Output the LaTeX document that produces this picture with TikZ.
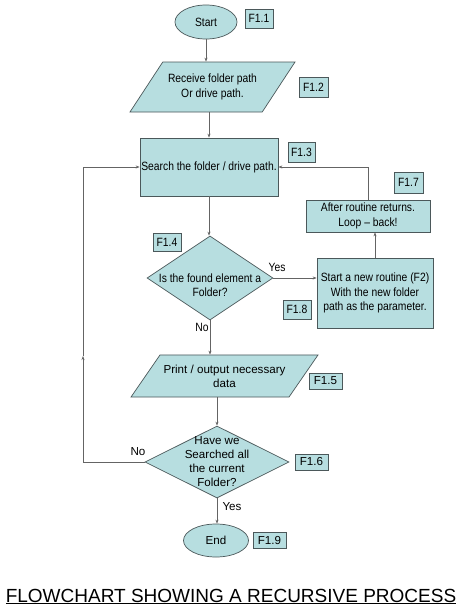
\documentclass[tikz,border=0pt]{standalone}
\usepackage{fontspec}
\setmainfont{Liberation Sans}
\newfontfamily\narrowfont{Liberation Sans}[FakeStretch=0.86, Ligatures=TeX]
\usetikzlibrary{shapes.geometric,arrows.meta}
\definecolor{boxfill}{RGB}{183,222,224}
\definecolor{boxline}{RGB}{75,88,90}
\definecolor{wire}{RGB}{100,100,100}
\tikzset{
  upper/.style={font=\narrowfont\fontsize{12}{14.5}\selectfont},
  lower/.style={font=\fontsize{11.6}{14}\selectfont},
  shapebase/.style={draw=boxline, fill=boxfill, line width=0.7pt, inner sep=0pt, align=center},
  terminal/.style={shapebase, ellipse},
  io/.style={shapebase, trapezium, trapezium stretches body=true},
  process/.style={shapebase, rectangle},
  decision/.style={shapebase, diamond},
  tag/.style={shapebase, rectangle, minimum width=28pt, minimum height=19pt},
  arr/.style={draw=wire, line width=0.7pt, -{Stealth[length=4pt,width=3pt]}},
}
\begin{document}
\begin{tikzpicture}[x=1pt,y=-1pt]
\path[use as bounding box, fill=white] (0,0) rectangle (464,613);
% upper part
\node[terminal, upper, minimum width=62pt, minimum height=34pt] (start) at (206,22) {Start};
\node[tag, upper] (lab11) at (259,18.5) {F1.1};
\node[io, upper, minimum width=165pt, minimum height=50pt, inner ysep=12pt,
      trapezium left angle=56.6, trapezium right angle=123.4] (in1) at (212.5,87)
      {Receive folder path\\Or drive path.};
\node[tag, upper, minimum width=29pt, minimum height=20pt] (lab12) at (313.5,87) {F1.2};
\node[process, upper, minimum width=138pt, minimum height=58pt] (search) at (209,167)
      {Search the folder / drive path.};
\node[tag, upper, minimum width=27pt, minimum height=20pt] (lab13) at (301.5,152) {F1.3};
\node[decision, minimum width=126pt, minimum height=84pt] (folder) at (210,278) {};
\node[upper, align=center] (foldertxt) at (210,285) {Is the found element a\\Folder?};
\node[tag, upper, minimum height=18pt] (lab14) at (167,242) {F1.4};
\node[upper] (yes1) at (277,267) {Yes};
\node[process, upper, minimum width=116pt, minimum height=70pt] (newr) at (375,293)
      {Start a new routine (F2)\\With the new folder\\path as the parameter.};
\node[tag, upper] (lab18) at (297,309.5) {F1.8};
\node[process, upper, minimum width=124pt, minimum height=32pt] (after) at (368,216)
      {After routine returns.\\Loop – back!};
\node[tag, upper, minimum width=29pt, minimum height=21pt] (lab17) at (408.5,182.5) {F1.7};
\node[upper] (no1) at (202,327) {No};
% lower part
\node[io, lower, minimum width=187pt, minimum height=42pt, inner ysep=9.75pt,
      trapezium left angle=55.4, trapezium right angle=124.6] (out1) at (224.5,376)
      {Print / output necessary\\data};
\node[tag, lower, minimum width=33pt, minimum height=16pt] (lab15) at (325.5,381) {F1.5};
\node[decision, minimum width=144pt, minimum height=72pt] (done) at (217,462) {};
\node[lower, align=center] (donetxt) at (217,462) {Have we\\Searched all\\the current\\Folder?};
\node[tag, lower, minimum width=33pt, minimum height=16pt] (lab16) at (311.5,462) {F1.6};
\node[lower] (no2) at (138,452) {No};
\node[lower] (yes2) at (232,507) {Yes};
\node[terminal, lower, minimum width=65pt, minimum height=33pt] (end) at (216,540.5) {End};
\node[tag, lower, minimum width=33pt, minimum height=16pt] (lab19) at (269.5,540) {F1.9};
\node[font=\fontsize{19}{23}\selectfont, anchor=base] (title) at (231,602)
      {\underline{FLOWCHART SHOWING A RECURSIVE PROCESS}};
% connectors
\coordinate (loopmid) at (83,356);
\draw[arr] (start) -- (start |- in1.north);
\draw[arr] (search.north |- in1.south) -- (search.north);
\draw[arr] (search.south) -- (search.south |- folder.north);
\draw[arr] (folder.east) -- (folder.east -| newr.west);
\draw[arr] (newr.north) -- (newr.north |- after.south);
\draw[arr] (after.north) |- (search.east);
\draw[arr] (folder.south) -- (folder.south |- out1.north);
\draw[arr] (done.north |- out1.south) -- (done.north);
\draw[arr] (done.south) -- (done.south |- end.north);
\draw[arr] (done.west) -| (loopmid);
\draw[arr] (loopmid) |- (search.west);
\end{tikzpicture}
\end{document}
